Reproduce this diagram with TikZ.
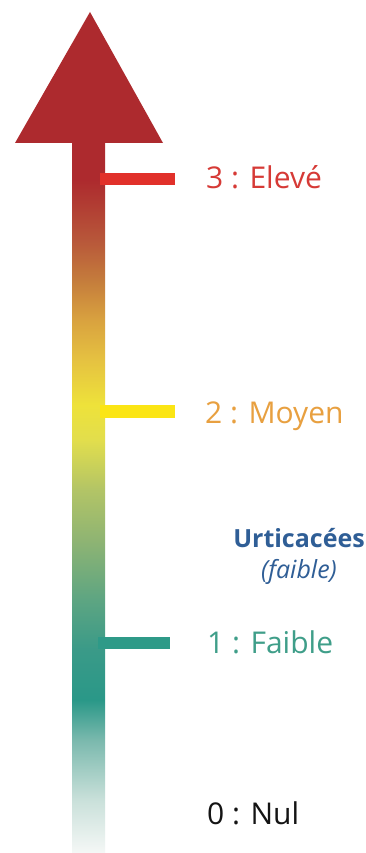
\documentclass[tikz,border=0pt]{standalone}
\usepackage{fontspec}
\setmainfont{Open Sans}
\definecolor{headred}{HTML}{AD2A2E}
\definecolor{tickred}{HTML}{E1302A}
\definecolor{tickyellow}{HTML}{FBE514}
\definecolor{tickteal}{HTML}{2E9A88}
\definecolor{labred}{HTML}{D63A36}
\definecolor{laborange}{HTML}{E8A040}
\definecolor{labteal}{HTML}{3F9E89}
\definecolor{labblack}{HTML}{141414}
\definecolor{labblue}{HTML}{2F5E96}
\pgfdeclareverticalshading{shaftshade}{100bp}{%
rgb(0bp)=(0.96,0.97,0.965);
rgb(25bp)=(0.96,0.97,0.965);
rgb(28.72bp)=(0.79,0.88,0.855);
rgb(32.92bp)=(0.48,0.725,0.68);
rgb(35.73bp)=(0.165,0.596,0.533);
rgb(39.24bp)=(0.227,0.604,0.533);
rgb(42.74bp)=(0.365,0.647,0.51);
rgb(46.95bp)=(0.56,0.706,0.45);
rgb(50.46bp)=(0.70,0.77,0.40);
rgb(53.96bp)=(0.886,0.87,0.30);
rgb(56.42bp)=(0.933,0.886,0.227);
rgb(59.57bp)=(0.90,0.76,0.255);
rgb(62.38bp)=(0.85,0.635,0.247);
rgb(65.18bp)=(0.77,0.486,0.235);
rgb(67.99bp)=(0.72,0.34,0.227);
rgb(72.19bp)=(0.678,0.165,0.18);
rgb(75bp)=(0.678,0.165,0.18);
rgb(100bp)=(0.678,0.165,0.18)}
\begin{document}
\begin{tikzpicture}[x=1pt,y=-1pt,
  level/.style={anchor=base west,inner sep=0pt,font=\fontsize{30}{36}\selectfont},
  tickbar/.style={draw=none},
  note/.style={anchor=base,inner sep=0pt,text=labblue,font=\fontsize{25}{30}\selectfont}]
\useasboundingbox[fill=white] (0,0) rectangle (366,853);
% shaft
\shade[shading=shaftshade] (72,140) rectangle (105,853);
% head
\fill[headred] (90,12) -- (163,143) -- (15,143) -- cycle;
% ticks
\fill[tickred] (100,173) rectangle (175,185);
\fill[tickyellow] (100,405) rectangle (175,418);
\fill[tickteal] (98,637) rectangle (170,649);
% labels
\node[level,text=labred] (l3) at (206,188) {3 : Elevé};
\node[level,text=laborange] (l2) at (205,423) {2 : Moyen};
\node[level,text=labteal] (l1) at (207,653) {1 : Faible};
\node[level,text=labblack] (l0) at (207,824) {0 : Nul};
\node[note,font=\fontsize{25}{30}\selectfont\bfseries] (urt) at (299,547) {Urticacées};
\node[note,font=\fontsize{25}{30}\selectfont\itshape] (fai) at (299,578) {(faible)};
\end{tikzpicture}
\end{document}
